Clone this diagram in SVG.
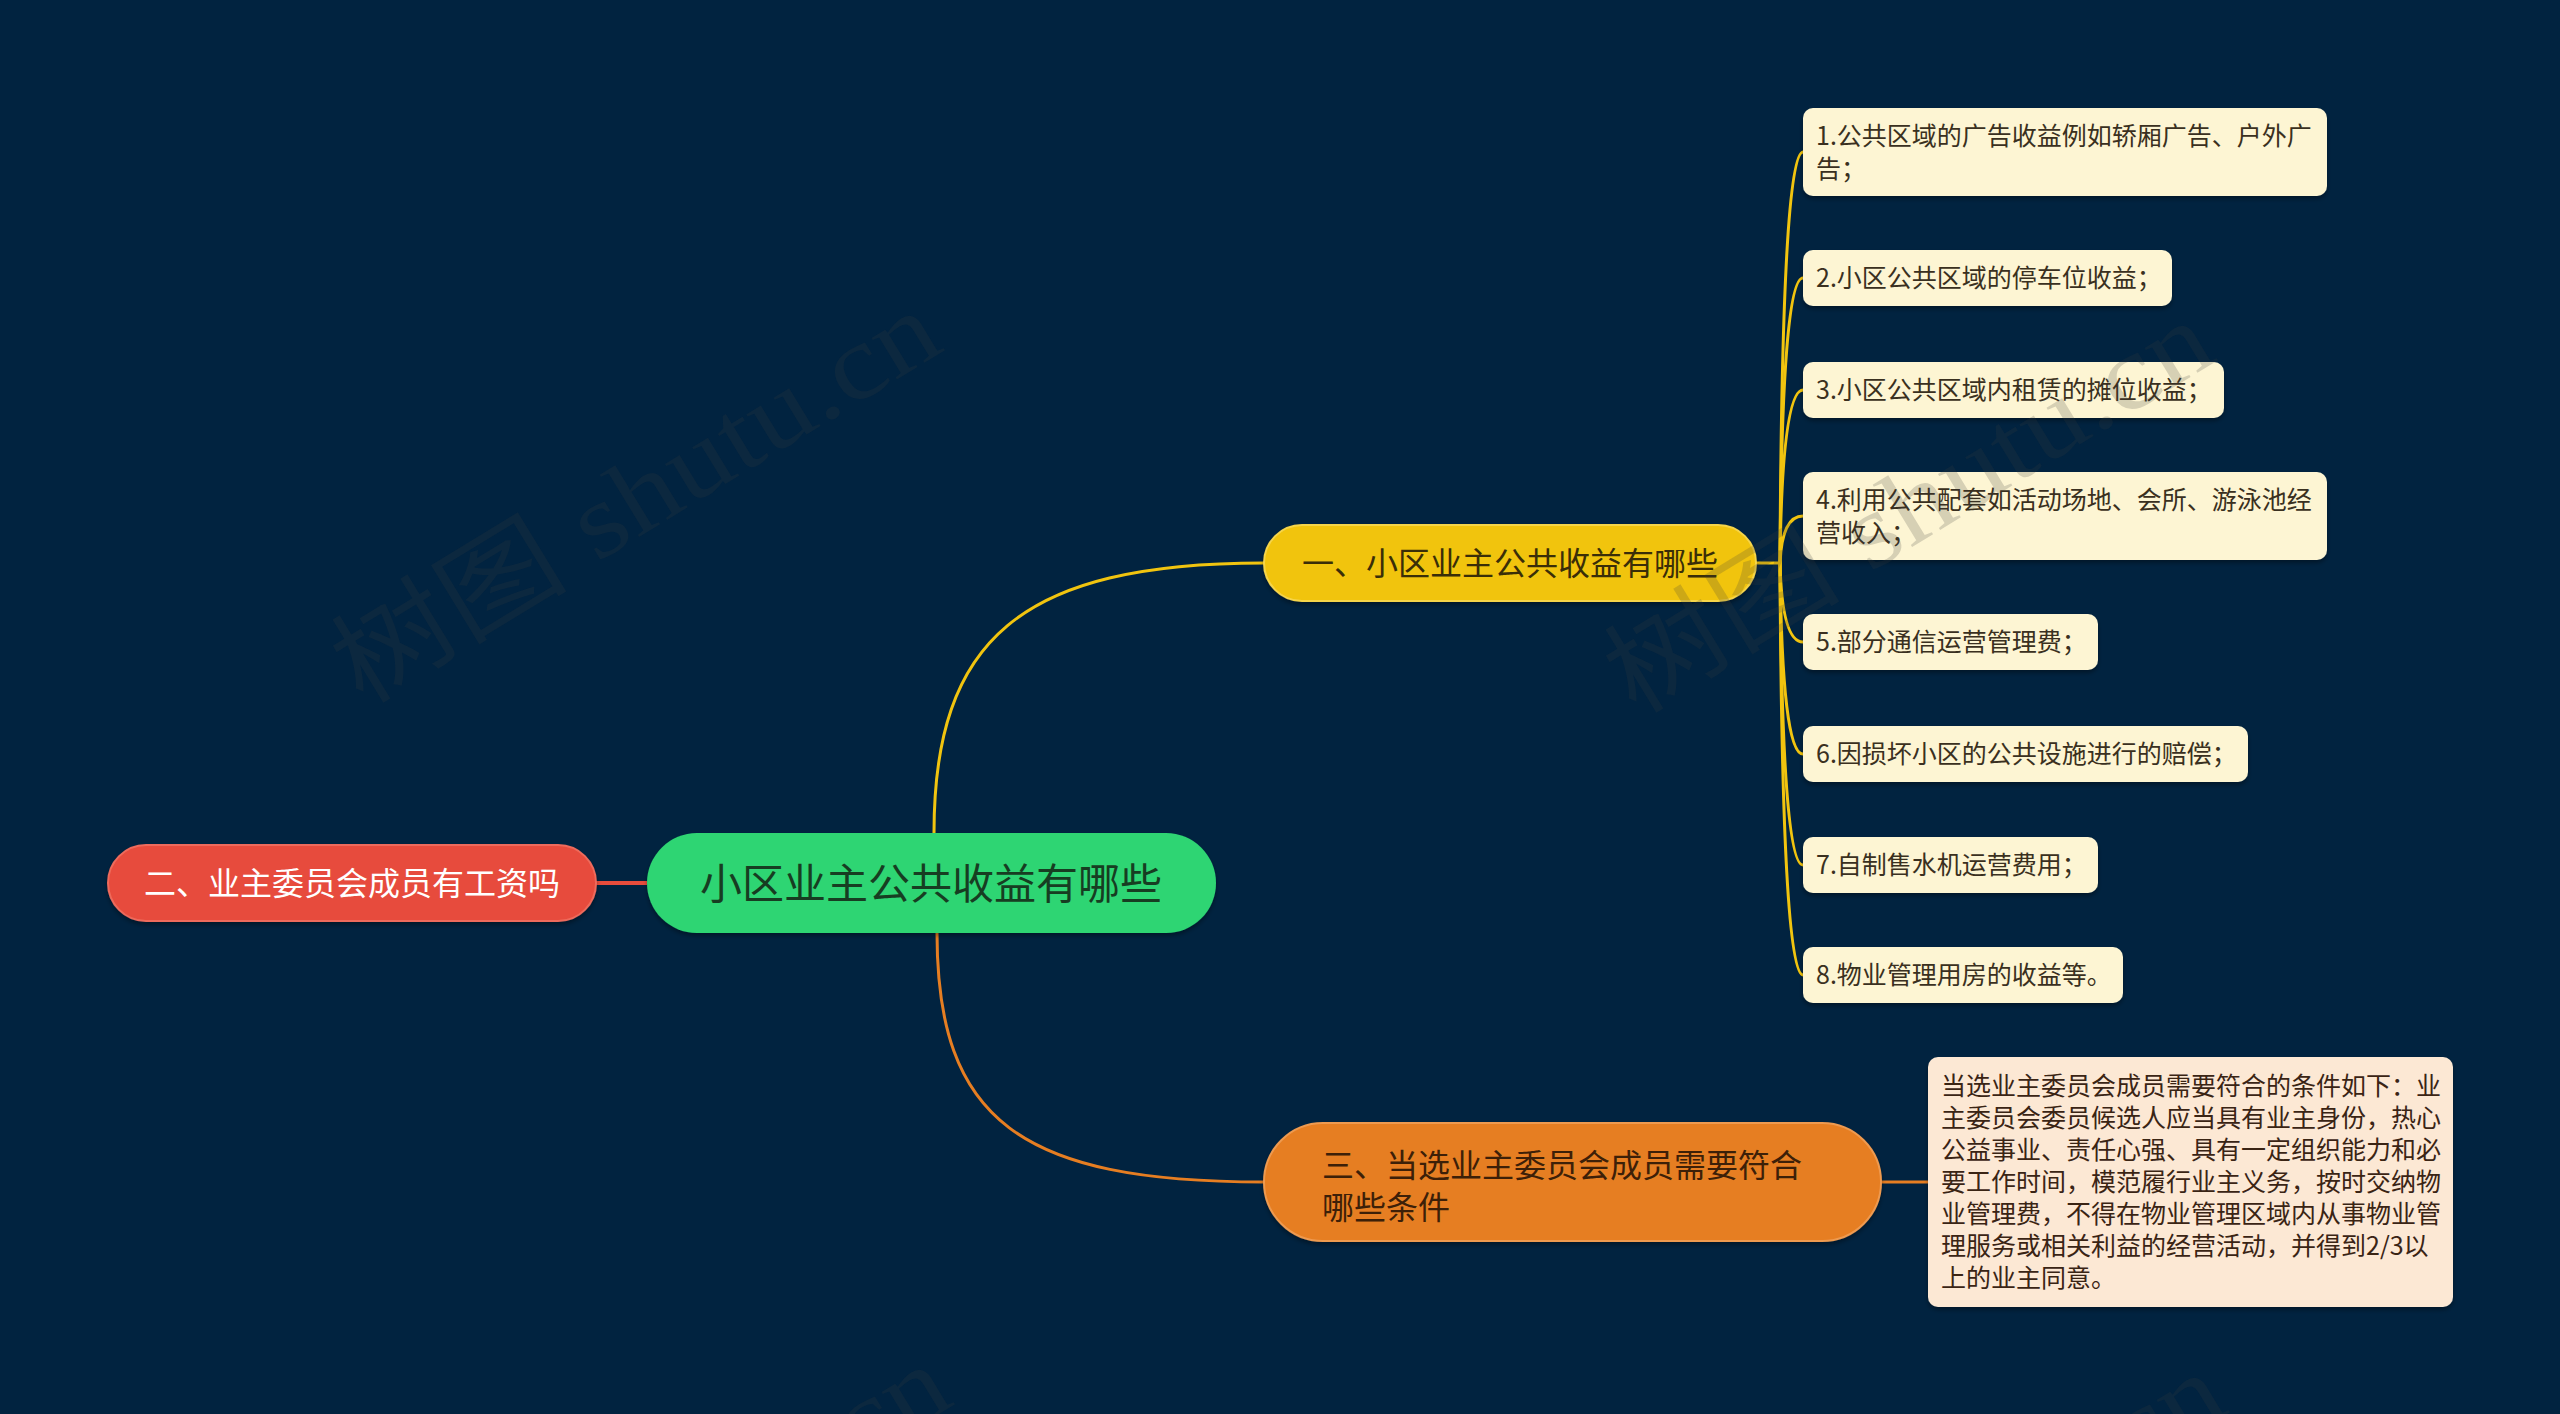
<svg xmlns="http://www.w3.org/2000/svg" width="2560" height="1414" viewBox="0 0 2560 1414">
<defs>
<style>
.t{font-family:"Noto Sans CJK SC","Noto Sans",sans-serif}
.leafY{fill:#fdf5d3}
.leafO{fill:#fce8d4}
.lt{font-size:25px;fill:#3a3020}
.ot{font-size:25px;fill:#3a2414}
.br{font-size:32px}
.cy{fill:none;stroke:#f1c40f;stroke-width:3}
.co{fill:none;stroke:#e67e22;stroke-width:3}
.cr{fill:none;stroke:#e74c3c;stroke-width:4}
.wm{font-family:"Liberation Serif","Noto Sans CJK SC",serif;font-size:106px;fill:#3a3a3a;fill-opacity:0.2}
</style>
<filter id="sh" x="-10%" y="-10%" width="120%" height="140%">
<feDropShadow dx="0" dy="3" stdDeviation="2" flood-color="#000" flood-opacity="0.35"/>
</filter>
</defs>
<rect width="2560" height="1414" fill="#012340"/>

<g id="connectors">
<path class="cy" d="M934 833 C934 640 1020 563 1264 563"/>
<path class="co" d="M937 933 C937 1120 1020 1182 1264 1182"/>
<path class="cr" d="M596 883 L647 883"/>
<path class="co" d="M1881 1182 L1928 1182"/>
<path class="cy" d="M1756 563 L1780 563"/>
<path class="cy" d="M1780 563 Q1782 152 1803 152"/>
<path class="cy" d="M1780 563 Q1782 278 1803 278"/>
<path class="cy" d="M1780 563 Q1782 390 1803 390"/>
<path class="cy" d="M1780 563 Q1782 516 1803 516"/>
<path class="cy" d="M1780 563 Q1782 642 1803 642"/>
<path class="cy" d="M1780 563 Q1782 754 1803 754"/>
<path class="cy" d="M1780 563 Q1782 865 1803 865"/>
<path class="cy" d="M1780 563 Q1782 975 1803 975"/>
</g>

<g id="root">
<rect x="647" y="833" width="569" height="100" rx="50" fill="#2ed573" filter="url(#sh)"/>
<text class="t" x="931" y="899" font-size="42" fill="#173d22" text-anchor="middle">小区业主公共收益有哪些</text>
</g>

<g id="branch1">
<rect x="1264" y="525" width="492" height="76" rx="38" fill="#f1c40f" stroke="#f6d54a" stroke-width="2" filter="url(#sh)"/>
<text class="t br" x="1510" y="575" fill="#3a2e08" text-anchor="middle">一、小区业主公共收益有哪些</text>
</g>

<g id="branch2">
<rect x="108" y="845" width="488" height="76" rx="38" fill="#e74c3c" stroke="#ee6a5c" stroke-width="2" filter="url(#sh)"/>
<text class="t br" x="352" y="895" fill="#ffffff" text-anchor="middle">二、业主委员会成员有工资吗</text>
</g>

<g id="branch3">
<rect x="1264" y="1123" width="617" height="118" rx="59" fill="#e67e22" stroke="#ee9a50" stroke-width="2" filter="url(#sh)"/>
<text class="t br" fill="#3d2008"><tspan x="1322" y="1177">三、当选业主委员会成员需要符合</tspan><tspan x="1322" y="1219">哪些条件</tspan></text>
</g>

<g id="leaf1">
<rect class="leafY" x="1803" y="108" width="524" height="88" rx="10" filter="url(#sh)"/>
<text class="t lt"><tspan x="1816" y="145">1.公共区域的广告收益例如轿厢广告、户外广</tspan><tspan x="1816" y="178">告；</tspan></text>
</g>
<g id="leaf2">
<rect class="leafY" x="1803" y="250" width="369" height="56" rx="10" filter="url(#sh)"/>
<text class="t lt" x="1816" y="287">2.小区公共区域的停车位收益；</text>
</g>
<g id="leaf3">
<rect class="leafY" x="1803" y="362" width="421" height="56" rx="10" filter="url(#sh)"/>
<text class="t lt" x="1816" y="399">3.小区公共区域内租赁的摊位收益；</text>
</g>
<g id="leaf4">
<rect class="leafY" x="1803" y="472" width="524" height="88" rx="10" filter="url(#sh)"/>
<text class="t lt"><tspan x="1816" y="509">4.利用公共配套如活动场地、会所、游泳池经</tspan><tspan x="1816" y="542">营收入；</tspan></text>
</g>
<g id="leaf5">
<rect class="leafY" x="1803" y="614" width="295" height="56" rx="10" filter="url(#sh)"/>
<text class="t lt" x="1816" y="651">5.部分通信运营管理费；</text>
</g>
<g id="leaf6">
<rect class="leafY" x="1803" y="726" width="445" height="56" rx="10" filter="url(#sh)"/>
<text class="t lt" x="1816" y="763">6.因损坏小区的公共设施进行的赔偿；</text>
</g>
<g id="leaf7">
<rect class="leafY" x="1803" y="837" width="295" height="56" rx="10" filter="url(#sh)"/>
<text class="t lt" x="1816" y="874">7.自制售水机运营费用；</text>
</g>
<g id="leaf8">
<rect class="leafY" x="1803" y="947" width="320" height="56" rx="10" filter="url(#sh)"/>
<text class="t lt" x="1816" y="984">8.物业管理用房的收益等。</text>
</g>

<g id="leaf9">
<rect class="leafO" x="1928" y="1057" width="525" height="250" rx="10" filter="url(#sh)"/>
<text class="t ot">
<tspan x="1941" y="1095">当选业主委员会成员需要符合的条件如下：业</tspan>
<tspan x="1941" y="1127">主委员会委员候选人应当具有业主身份，热心</tspan>
<tspan x="1941" y="1159">公益事业、责任心强、具有一定组织能力和必</tspan>
<tspan x="1941" y="1191">要工作时间，模范履行业主义务，按时交纳物</tspan>
<tspan x="1941" y="1223">业管理费，不得在物业管理区域内从事物业管</tspan>
<tspan x="1941" y="1255">理服务或相关利益的经营活动，并得到2/3以</tspan>
<tspan x="1941" y="1287">上的业主同意。</tspan>
</text>
</g>

<g id="watermarks">
<text class="wm" x="362" y="706" textLength="685" lengthAdjust="spacingAndGlyphs" transform="rotate(-31.4 362 706)">树图 shutu.cn</text>
<text class="wm" x="1635" y="716" textLength="685" lengthAdjust="spacingAndGlyphs" transform="rotate(-31.4 1635 716)">树图 shutu.cn</text>
<text class="wm" x="372" y="1760" textLength="685" lengthAdjust="spacingAndGlyphs" transform="rotate(-31.4 372 1760)">树图 shutu.cn</text>
<text class="wm" x="1647" y="1768" textLength="685" lengthAdjust="spacingAndGlyphs" transform="rotate(-31.4 1647 1768)">树图 shutu.cn</text>
</g>
</svg>
